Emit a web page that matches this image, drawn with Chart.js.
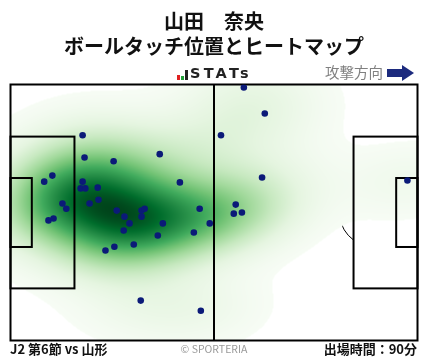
<!DOCTYPE html>
<html lang="ja">
<head>
<meta charset="utf-8">
<script src="https://cdn.jsdelivr.net/npm/chart.js@4.4.1/dist/chart.umd.min.js"></script>
<style>
  html, body { margin: 0; padding: 0; background: #fff; }
  body { width: 428px; height: 359px; position: relative; overflow: hidden; font-family: "Noto Sans CJK JP", "Noto Sans", sans-serif; }
  #chart { position: absolute; left: 0; top: 0; }
  .title { position: absolute; left: 0; width: 428px; text-align: center; font-weight: bold; font-size: 20px; line-height: 25px; color: #111; }
  .logo { position: absolute; left: 177px; top: 66px; height: 16px; }
  .logo .bar { position: absolute; bottom: 2px; width: 3px; }
  .logo .txt { position: absolute; left: 13px; top: -1px; font-family: "DejaVu Sans", sans-serif; font-weight: bold; font-size: 14.5px; letter-spacing: 3.2px; color: #222; }
  .dir { position: absolute; left: 325px; top: 61px; font-size: 14.5px; color: #808080; }
  .foot { position: absolute; top: 339px; font-size: 13px; font-weight: bold; color: #111; }
  .copy { position: absolute; top: 341px; left: 0; width: 428px; text-align: center; font-size: 10.5px; color: #9a9a9a; }
</style>
</head>
<body>
<canvas id="chart" width="428" height="359"></canvas>
<div class="title" style="top:8px">山田　奈央</div>
<div class="title" style="top:33px">ボールタッチ位置とヒートマップ</div>
<div class="logo">
  <div class="bar" style="left:0;height:5px;background:#e02020"></div>
  <div class="bar" style="left:4px;height:4px;background:#22a03a"></div>
  <div class="bar" style="left:8px;height:10px;background:#222"></div>
  <div class="txt">STATs</div>
</div>
<div class="dir">攻撃方向</div>
<svg style="position:absolute;left:386px;top:64px" width="30" height="18" viewBox="0 0 30 18">
  <polygon points="1,5 16,5 16,1 28,9 16,17 16,13 1,13" fill="#1c2a7e"/>
</svg>
<div class="foot" style="left:10px">J2 第6節 vs 山形</div>
<div class="copy">© SPORTERIA</div>
<div class="foot" style="right:11px">出場時間：90分</div>

<script>
// タッチ位置 (m, ピッチ 105 x 68, y は上から)
const touchX = [60.2, 65.6, 18.6, 54.3, 38.5, 19.1, 26.6, 64.9, 10.8, 8.7,
                18.6, 43.7, 102.4, 18.1, 19.3, 22.5, 22.7, 13.4, 20.4, 14.4,
                27.4, 33.8, 34.6, 48.8, 58.1, 57.6, 59.7, 29.4, 33.8, 9.8,
                11.1, 30.7, 39.3, 51.4, 29.2, 38.0, 47.3, 31.8, 26.8, 24.5,
                33.6, 49.1];
const touchY = [0.8, 7.7, 13.5, 13.5, 18.5, 19.4, 20.4, 24.7, 24.2, 25.8,
                25.8, 26.0, 25.5, 27.6, 27.6, 27.4, 30.6, 31.6, 31.6, 33.0,
                33.5, 33.5, 33.0, 33.0, 31.9, 34.3, 34.0, 35.1, 35.1, 36.1,
                35.6, 36.9, 36.9, 36.9, 38.8, 40.1, 39.3, 42.5, 43.1, 44.1,
                57.4, 60.1];

const PITCH_W = 105, PITCH_H = 68;
const BW_ADJUST = 1.15;
const THRESH = 0.008;
const greens = ["#f7fcf5", "#e5f5e0", "#c7e9c0", "#a1d99b", "#74c476", "#41ab5d", "#238b45", "#006d2c", "#00441b"];

function hexRgb(h) {
    return [parseInt(h.slice(1, 3), 16), parseInt(h.slice(3, 5), 16), parseInt(h.slice(5, 7), 16)];
}
const greensRgb = greens.map(hexRgb);

function greenAt(t) {
    t = Math.max(0, Math.min(1, t)) * (greensRgb.length - 1);
    const i = Math.min(Math.floor(t), greensRgb.length - 2);
    const f = t - i;
    const a = greensRgb[i], b = greensRgb[i + 1];
    return [a[0] + (b[0] - a[0]) * f, a[1] + (b[1] - a[1]) * f, a[2] + (b[2] - a[2]) * f];
}

// ガウスカーネル密度推定 (Scott)
function makeKde(xs, ys) {
    const n = xs.length;
    const mx = xs.reduce((s, v) => s + v, 0) / n;
    const my = ys.reduce((s, v) => s + v, 0) / n;
    let sxx = 0, syy = 0, sxy = 0;
    for (let i = 0; i < n; i++) {
        sxx += (xs[i] - mx) ** 2;
        syy += (ys[i] - my) ** 2;
        sxy += (xs[i] - mx) * (ys[i] - my);
    }
    const f2 = Math.pow(n, -1 / 3) * BW_ADJUST * BW_ADJUST;
    const a = sxx / (n - 1) * f2, d = syy / (n - 1) * f2, b = sxy / (n - 1) * f2;
    const det = a * d - b * b;
    const ia = d / det, id = a / det, ib = -b / det;
    return (x, y) => {
        let s = 0;
        for (let i = 0; i < n; i++) {
            const dx = x - xs[i], dy = y - ys[i];
            s += Math.exp(-0.5 * (ia * dx * dx + 2 * ib * dx * dy + id * dy * dy));
        }
        return s;
    };
}

const pitchPlugin = {
    id: "pitch",
    beforeDatasetsDraw(chart) {
        const { ctx, chartArea: area, scales: { x, y } } = chart;
        const px = (v) => x.getPixelForValue(v);
        const py = (v) => y.getPixelForValue(v);

        ctx.save();
        // 円は下に描く (ヒートマップで隠れる)
        ctx.strokeStyle = "#000";
        ctx.lineWidth = 1;
        const rx = Math.abs(px(9.15) - px(0)), ry = Math.abs(py(9.15) - py(0));
        ctx.beginPath();
        ctx.ellipse(px(PITCH_W / 2), py(PITCH_H / 2), rx, ry, 0, 0, Math.PI * 2);
        ctx.stroke();
        ctx.beginPath();
        ctx.ellipse(px(11), py(PITCH_H / 2), rx, ry, 0, -0.92, 0.92);
        ctx.stroke();
        ctx.beginPath();
        ctx.ellipse(px(PITCH_W - 11), py(PITCH_H / 2), rx, ry, 0, Math.PI - 0.92, Math.PI + 0.92);
        ctx.stroke();

        // ヒートマップ
        const w = Math.round(area.right - area.left), h = Math.round(area.bottom - area.top);
        const kde = makeKde(touchX, touchY);
        const dens = new Float64Array(w * h);
        for (let j = 0; j < h; j++) {
            const vy = y.getValueForPixel(area.top + j + 0.5);
            for (let i = 0; i < w; i++) {
                dens[j * w + i] = kde(x.getValueForPixel(area.left + i + 0.5), vy);
            }
        }
        const sorted = Array.from(dens).sort((p, q) => p - q);
        const total = sorted.reduce((s, v) => s + v, 0);
        let acc = 0, thr = sorted[0];
        for (let k = 0; k < sorted.length; k++) {
            acc += sorted[k];
            if (acc / total >= THRESH) { thr = sorted[k]; break; }
        }
        const dMax = sorted[sorted.length - 1];
        const off = document.createElement("canvas");
        off.width = w; off.height = h;
        const octx = off.getContext("2d");
        const img = octx.createImageData(w, h);
        for (let k = 0; k < dens.length; k++) {
            if (dens[k] < thr) continue;
            const c = greenAt((dens[k] - thr) / (dMax - thr));
            img.data[k * 4] = c[0];
            img.data[k * 4 + 1] = c[1];
            img.data[k * 4 + 2] = c[2];
            img.data[k * 4 + 3] = 255;
        }
        octx.putImageData(img, 0, 0);
        ctx.drawImage(off, area.left, area.top);

        // ライン
        ctx.lineWidth = 2;
        ctx.strokeStyle = "#000";
        const rect = (x0, y0, x1, y1) => ctx.strokeRect(px(x0), py(y0), px(x1) - px(x0), py(y1) - py(y0));
        rect(0, 0, PITCH_W, PITCH_H);
        rect(0, 13.84, 16.5, 54.16);
        rect(0, 24.84, 5.5, 43.16);
        rect(PITCH_W - 16.5, 13.84, PITCH_W, 54.16);
        rect(PITCH_W - 5.5, 24.84, PITCH_W, 43.16);
        ctx.beginPath();
        ctx.moveTo(px(PITCH_W / 2), py(0));
        ctx.lineTo(px(PITCH_W / 2), py(PITCH_H));
        ctx.stroke();
        ctx.restore();
    }
};

new Chart(document.getElementById("chart"), {
    type: "scatter",
    data: {
        datasets: [{
            data: touchX.map((v, i) => ({ x: v, y: touchY[i] })),
            pointRadius: 3.3,
            pointBorderWidth: 0,
            pointBackgroundColor: "#0b1a78",
        }],
    },
    options: {
        responsive: false,
        animation: false,
        layout: { padding: { left: 10.5, right: 10.5, top: 84.5, bottom: 18.5 } },
        scales: {
            x: { type: "linear", min: 0, max: PITCH_W, display: false },
            y: { type: "linear", min: 0, max: PITCH_H, reverse: true, display: false },
        },
        plugins: {
            legend: { display: false },
            tooltip: { enabled: false },
        },
    },
    plugins: [pitchPlugin],
});
</script>
</body>
</html>
